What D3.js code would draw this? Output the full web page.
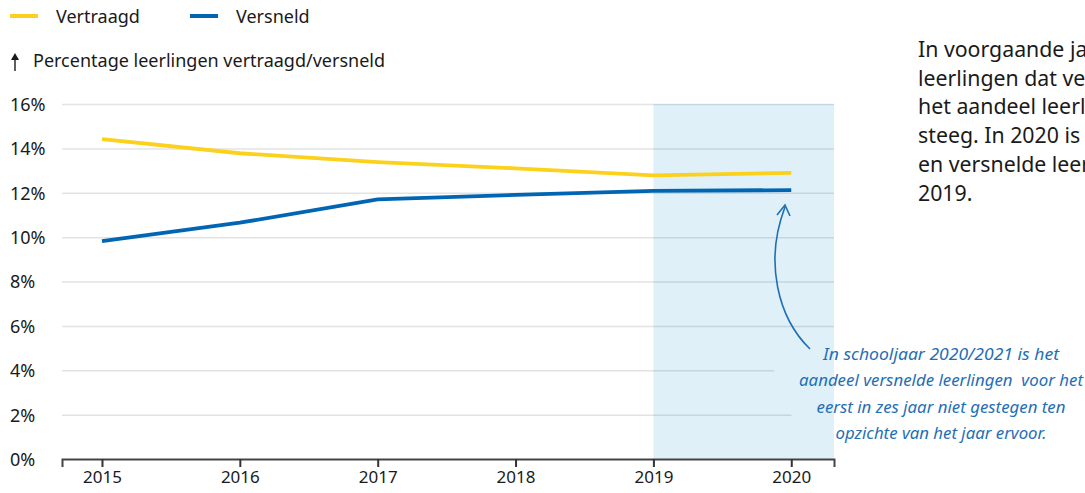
<!DOCTYPE html>
<html>
<head>
<meta charset="utf-8">
<script src="https://cdn.jsdelivr.net/npm/d3@7"></script>
<style>
  body { margin: 0; background: #fff; font-family: "Noto Sans", sans-serif; overflow: hidden; }
  svg { display: block; }
  text { white-space: pre; }
</style>
</head>
<body>
<svg id="chart" width="1085" height="493"></svg>
<script>
const years = [2015, 2016, 2017, 2018, 2019, 2020];
const vertraagd = [14.42, 13.78, 13.38, 13.1, 12.78, 12.9];
const versneld = [9.82, 10.65, 11.7, 11.9, 12.08, 12.12];
const yTicks = [0, 2, 4, 6, 8, 10, 12, 14, 16];
const seriesNames = ["Vertraagd", "Versneld"];
const seriesColors = ["#fcd11c", "#0066b3"];
const highlightStart = 2019;
const note = [
  "In schooljaar 2020/2021 is het",
  "aandeel versnelde leerlingen  voor het",
  "eerst in zes jaar niet gestegen ten",
  "opzichte van het jaar ervoor."
];
const noteWidths = [236, 284, 249, 211];
const sideText = [
  "In voorgaande jaren daalde het aandeel",
  "leerlingen dat vertraagd was, terwijl",
  "het aandeel leerlingen dat versneld was",
  "steeg. In 2020 is het aandeel vertraagde",
  "en versnelde leerlingen vergelijkbaar met",
  "2019."
];

const svg = d3.select("#chart");
const plotL = 62, plotR = 834, plotT = 104, plotB = 459;

const x = d3.scaleLinear().domain([2014.71, 2020.31]).range([plotL, plotR]);
const y = d3.scaleLinear().domain([0, 16]).range([plotB, plotT]);

// shaded period
svg.append("rect")
  .attr("x", x(highlightStart)).attr("y", plotT)
  .attr("width", plotR - x(highlightStart)).attr("height", plotB - plotT)
  .attr("fill", "#e0f0f9");

// grid + y labels
const yAxis = svg.append("g")
  .attr("transform", `translate(${plotL},0)`)
  .call(d3.axisLeft(y).tickValues(yTicks).tickSize(-(plotR - plotL)).tickFormat(d => d + "%"));
yAxis.select(".domain").remove();
yAxis.selectAll(".tick line")
  .attr("stroke", "rgba(0,0,0,0.11)").attr("stroke-width", 1.5)
  .filter(d => d === 0).remove();
yAxis.selectAll(".tick text")
  .attr("x", 10 - plotL).attr("text-anchor", "start").attr("dy", "0.36em")
  .attr("font-family", "Noto Sans").attr("font-size", 18).attr("fill", "#1a1a1a");

// cover behind annotation lines (inside the shaded area)
const clip = svg.append("clipPath").attr("id", "shade");
clip.append("rect")
  .attr("x", x(highlightStart)).attr("y", plotT)
  .attr("width", plotR - x(highlightStart)).attr("height", plotB - plotT);
const noteG = svg.append("g");
const covers = noteG.append("g").attr("clip-path", "url(#shade)");
const noteText = noteG.append("g")
  .attr("font-family", "Noto Sans").attr("font-style", "italic")
  .attr("font-size", 17).attr("fill", "#1f6fb6").attr("text-anchor", "middle");
note.forEach((t, i) => {
  const txt = noteText.append("text")
    .attr("x", 941).attr("y", 360 + i * 26.3)
    .attr("textLength", noteWidths[i]).attr("lengthAdjust", "spacingAndGlyphs")
    .text(t);
  const bb = txt.node().getBBox();
  covers.append("rect")
    .attr("x", bb.x - 25).attr("y", bb.y - 2)
    .attr("width", bb.width + 50).attr("height", 26.3)
    .attr("fill", "#e0f0f9");
});

// x axis
const xAxis = svg.append("g")
  .attr("transform", `translate(0,${plotB})`)
  .call(d3.axisBottom(x).tickValues(years).tickSize(8).tickFormat(d3.format("d")));
xAxis.select(".domain").attr("stroke", "#444").attr("stroke-width", 2);
xAxis.selectAll(".tick line").attr("stroke", "#333").attr("stroke-width", 2);
xAxis.selectAll(".tick text")
  .attr("y", 12).attr("font-family", "Noto Sans").attr("font-size", 17).attr("fill", "#1a1a1a");

// lines
const line = d3.line().x((d, i) => x(years[i])).y(d => y(d));
[vertraagd, versneld].forEach((vals, k) => {
  svg.append("path")
    .attr("d", line(vals))
    .attr("fill", "none")
    .attr("stroke", seriesColors[k])
    .attr("stroke-width", 3.8)
    .attr("stroke-linejoin", "round");
});

// annotation arrow
svg.append("path")
  .attr("d", "M810,349 C778,318 764,262 785,207")
  .attr("fill", "none").attr("stroke", "#1f6fb6").attr("stroke-width", 1.6);
svg.append("path")
  .attr("d", "M777,215 L785,205 L790,216")
  .attr("fill", "none").attr("stroke", "#1f6fb6").attr("stroke-width", 1.6);

// legend
const legend = svg.append("g").attr("font-family", "Noto Sans").attr("font-size", 18).attr("fill", "#1a1a1a");
const legX = [10, 190];
seriesNames.forEach((n, i) => {
  legend.append("line")
    .attr("x1", legX[i]).attr("x2", legX[i] + 28).attr("y1", 16).attr("y2", 16)
    .attr("stroke", seriesColors[i]).attr("stroke-width", 4);
  legend.append("text").attr("x", legX[i] + 46).attr("y", 23).text(n);
});

// y axis title with arrow
svg.append("line").attr("x1", 15).attr("x2", 15).attr("y1", 71).attr("y2", 57)
  .attr("stroke", "#1a1a1a").attr("stroke-width", 1.4);
svg.append("path").attr("d", "M11,60 L15,53 L19,60 Z").attr("fill", "#1a1a1a");
legend.append("text").attr("x", 33).attr("y", 67).text("Percentage leerlingen vertraagd/versneld");

// side text
const side = svg.append("g").attr("font-family", "Noto Sans").attr("font-size", 21.3).attr("fill", "#1a1a1a");
sideText.forEach((t, i) => {
  side.append("text").attr("x", 918).attr("y", 57 + i * 28.7).text(t);
});
</script>
</body>
</html>
